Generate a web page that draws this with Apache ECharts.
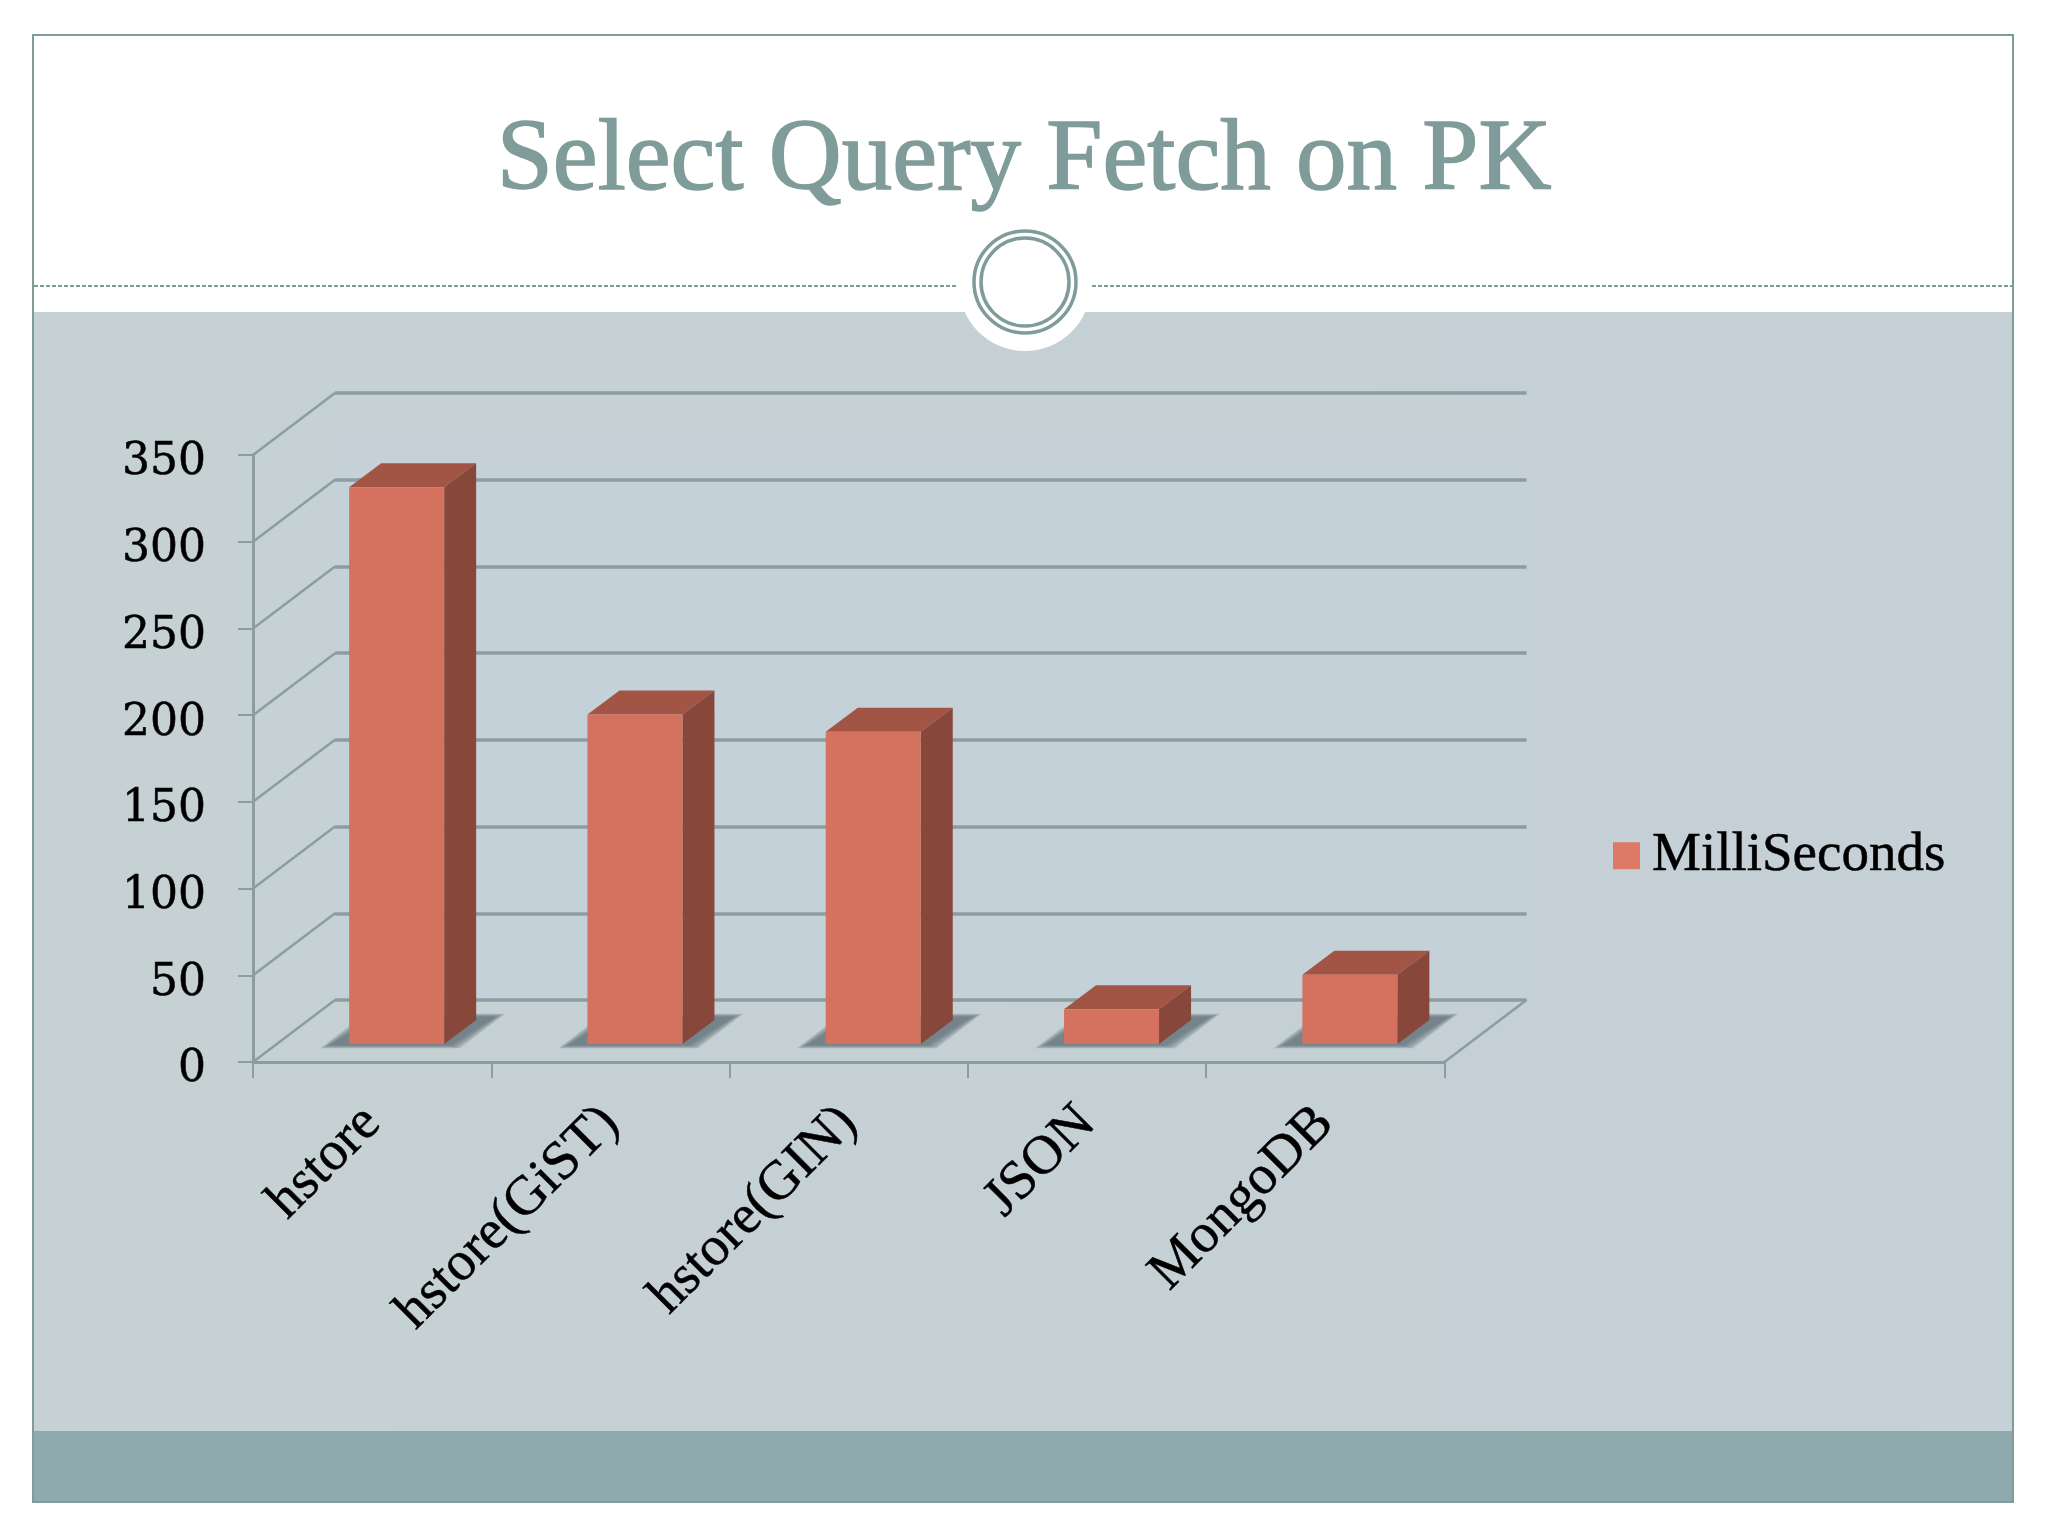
<!DOCTYPE html>
<html><head><meta charset="utf-8">
<style>html,body{margin:0;padding:0;background:#fff}#c{width:2048px;height:1536px}</style>
<script src="https://cdn.jsdelivr.net/npm/echarts@6/dist/echarts.min.js"></script>
</head><body><div id="c"></div>
<script>
const categories = ['hstore','hstore(GiST)','hstore(GIN)','JSON','MongoDB'];
const milliSeconds = [321,190,180,20,40];
const yTicks = [0,50,100,150,200,250,300,350];
const seriesName = 'MilliSeconds';
const titleText = 'Select Query Fetch on PK';

const WALL = [82,-62];      // full depth of the 3D frame
const BAR_DEPTH = [32,-24]; // depth of one bar
const FRONT = {left:253, top:455, width:1191.5, height:607};
const off = (g,d)=>({left:g.left+d[0], top:g.top+d[1], width:g.width, height:g.height});
const BACK = off(FRONT,WALL);
const BARS = off(FRONT,[24.5,-18]);
const LINE = '#8d9ca1', SERIF='"Liberation Serif",serif';

const chart = echarts.init(document.getElementById('c'),null,{renderer:'canvas'});
const hiddenY = i=>({type:'value',gridIndex:i,min:0,max:350,interval:50,axisLine:{show:false},axisTick:{show:false},axisLabel:{show:false},splitLine:{show:false}});
const hiddenX = i=>({type:'category',gridIndex:i,data:categories,axisLine:{show:false},axisTick:{show:false},axisLabel:{show:false},splitLine:{show:false}});

chart.setOption({
  animation:false,
  backgroundColor:'#ffffff',
  title:{text:titleText,left:'center',top:107,textStyle:{fontFamily:SERIF,fontSize:101,fontWeight:'normal',color:'#7f9c9a',textBorderColor:'#7f9c9a',textBorderWidth:1.5}},
  legend:{data:[seriesName],left:1608,top:823,icon:'rect',itemWidth:27,itemHeight:27,selectedMode:false,
    itemStyle:{color:'#dd7a66'},
    textStyle:{fontFamily:SERIF,fontSize:55,color:'#000',textBorderColor:'#000',textBorderWidth:0.5,padding:[0,0,0,7]}},
  graphic:{elements:[
    {type:'rect',z:-20,shape:{x:33,y:35,width:1980,height:1467},style:{fill:'#ffffff',stroke:'#7f9c9a',lineWidth:2}},
    {type:'rect',z:-19,shape:{x:34,y:312,width:1978,height:1119},style:{fill:new echarts.graphic.LinearGradient(0,0,1,0,[{offset:0,color:'#c5d1d3'},{offset:1,color:'#c5d0d7'}])}},
    {type:'rect',z:-19,shape:{x:34,y:1431,width:1978,height:70},style:{fill:'#8eaaae'}},
    {type:'circle',z:-18,shape:{cx:1025,cy:285,r:66},style:{fill:'#ffffff'}},
    {type:'line',z:-17,shape:{x1:34,y1:286,x2:957,y2:286},style:{stroke:'#7f9c9a',lineWidth:2,lineDash:[4,2]}},
    {type:'line',z:-17,shape:{x1:1092,y1:286,x2:2012,y2:286},style:{stroke:'#7f9c9a',lineWidth:2,lineDash:[4,2]}},
    {type:'circle',z:-17,shape:{cx:1025,cy:282,r:51},style:{fill:'#ffffff',stroke:'#7f9c9a',lineWidth:3.5}},
    {type:'circle',z:-17,shape:{cx:1025,cy:282,r:44},style:{fill:'#ffffff',stroke:'#7f9c9a',lineWidth:3.5}}
  ]},
  grid:[
    Object.assign({},FRONT,{containLabel:false}),
    Object.assign({},BACK,{containLabel:false}),
    Object.assign({},BARS,{containLabel:false})
  ],
  xAxis:[
    {type:'category',gridIndex:0,data:categories,
      axisLine:{show:true,lineStyle:{color:LINE,width:3}},
      axisTick:{show:true,alignWithLabel:false,length:16,lineStyle:{color:LINE,width:2}},
      axisLabel:{show:true,interval:0,rotate:45,margin:53,fontFamily:SERIF,fontSize:55,color:'#000',textBorderColor:'#000',textBorderWidth:0.5},
      splitLine:{show:false}},
    hiddenX(1),hiddenX(2)
  ],
  yAxis:[
    {type:'value',gridIndex:0,min:0,max:350,interval:50,
      axisLine:{show:true,lineStyle:{color:LINE,width:3}},
      axisTick:{show:true,length:15,lineStyle:{color:LINE,width:2}},
      axisLabel:{show:true,margin:47,fontFamily:'"DejaVu Serif",serif',fontSize:44,color:'#000',verticalAlign:'top',lineHeight:16,
        textBorderColor:'#000',textBorderWidth:0.5,
        formatter:v=>yTicks.includes(v)?String(v):''},
      splitLine:{show:false}},
    {type:'value',gridIndex:1,min:0,max:350,interval:50,axisLine:{show:false},axisTick:{show:false},axisLabel:{show:false},
      splitLine:{show:true,lineStyle:{color:LINE,width:3.5}}},
    hiddenY(2)
  ],
  series:[
    // back wall, slightly bluer than the panel
    {type:'custom',xAxisIndex:1,yAxisIndex:1,z:-1,silent:true,data:[[0]],
      renderItem:(p,api)=>{
        const a=api.coord([0,0]),b=api.coord([categories.length-1,350]),h=api.size([1,0])[0]/2;
        return {type:'rect',shape:{x:a[0]-h,y:b[1],width:b[0]-a[0]+2*h,height:a[1]-b[1]},
          style:{fill:new echarts.graphic.LinearGradient(0,0,0,1,[{offset:0,color:'#c5d1d4'},{offset:0.15,color:'#c5d1d8'},{offset:1,color:'#c5d1d8'}])}};
      }},
    // side wall and floor diagonals, one for each y tick
    {type:'custom',xAxisIndex:0,yAxisIndex:0,z:1,silent:true,data:yTicks.map(v=>[0,v]),
      renderItem:(p,api)=>{
        const c=api.coord([0,api.value(1)]),h=api.size([1,0])[0]/2,x=c[0]-h,y=c[1];
        return {type:'line',shape:{x1:x,y1:y,x2:x+WALL[0],y2:y+WALL[1]},style:{stroke:LINE,lineWidth:2.5}};
      }},
    {type:'custom',xAxisIndex:0,yAxisIndex:0,z:1,silent:true,data:[[categories.length-1,0]],
      renderItem:(p,api)=>{
        const c=api.coord([api.value(0),0]),h=api.size([1,0])[0]/2,x=c[0]+h,y=c[1];
        return {type:'line',shape:{x1:x,y1:y,x2:x+WALL[0],y2:y+WALL[1]},style:{stroke:LINE,lineWidth:2.5}};
      }},
    // soft floor shadows: nested translucent shapes, widest first
    {type:'custom',xAxisIndex:2,yAxisIndex:2,z:2,silent:true,data:milliSeconds.map((v,i)=>[i,v]),
      renderItem:(p,api)=>{
        const c=api.coord([api.value(0),0]),w=47.5,x=c[0],y=c[1];
        const children=[10,8,6,4,2,0].map(e=>({type:'polygon',
          shape:{points:[[x-w-19-e,y+1+e/3],[x+w+6+e,y+1+e/3],[x+w+51+e,y-27-e/3],[x-w+26-e,y-27-e/3]]},
          style:{fill:'#5f6f75',opacity:0.22}}));
        return {type:'group',children};
      }},
    // top and side faces of the bars
    {type:'custom',xAxisIndex:2,yAxisIndex:2,z:3,silent:true,data:milliSeconds.map((v,i)=>[i,v]),
      renderItem:(p,api)=>{
        const c=api.coord([api.value(0),api.value(1)]),b=api.coord([api.value(0),0]),w=47.5,d=BAR_DEPTH;
        const l=c[0]-w,r=c[0]+w,t=c[1],bt=b[1];
        return {type:'group',children:[
          {type:'polygon',shape:{points:[[l,t],[r,t],[r+d[0],t+d[1]],[l+d[0],t+d[1]]]},style:{fill:'#a25545'}},
          {type:'polygon',shape:{points:[[r,t],[r+d[0],t+d[1]],[r+d[0],bt+d[1]],[r,bt]]},style:{fill:'#87473b'}}
        ]};
      }},
    {type:'bar',name:seriesName,xAxisIndex:2,yAxisIndex:2,z:4,barWidth:95,data:milliSeconds,
      itemStyle:{color:'#d5725f'},silent:true}
  ]
});
</script></body></html>
